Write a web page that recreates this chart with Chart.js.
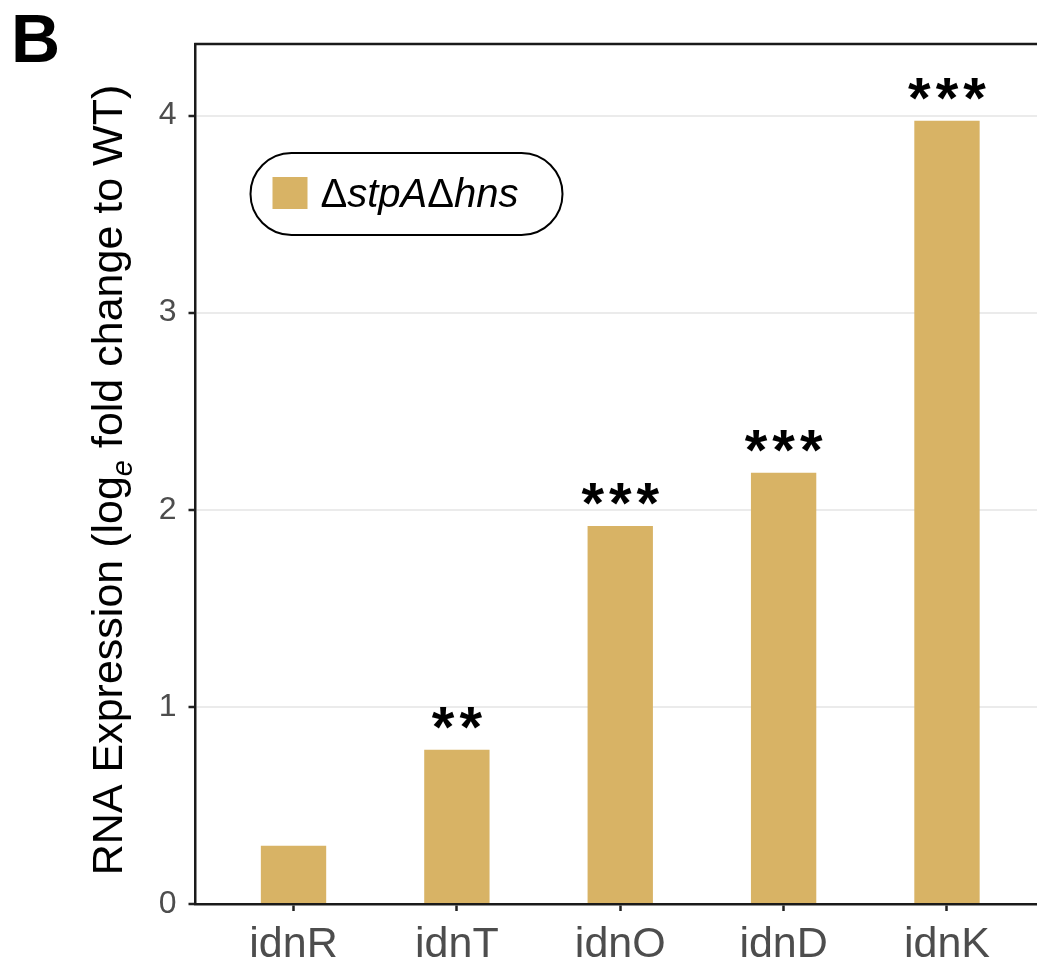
<!DOCTYPE html>
<html>
<head>
<meta charset="utf-8">
<title>idn operon expression</title>
<script src="https://cdn.jsdelivr.net/npm/chart.js@4.4.1/dist/chart.umd.min.js"></script>
<style>
  html, body { margin: 0; padding: 0; background: #fff; overflow: hidden; }
  #wrap { position: relative; width: 1060px; height: 963px; }
</style>
</head>
<body>
<div id="wrap"><canvas id="chart" width="1060" height="963"></canvas></div>
<script>
'use strict';

/* ── data ── */
const genes   = ['idnR', 'idnT', 'idnO', 'idnD', 'idnK'];
const logFC   = [0.296, 0.783, 1.918, 2.188, 3.974];
const signif  = ['', '**', '***', '***', '***'];
const yTicks  = [0, 1, 2, 3, 4];
const strain  = 'ΔstpAΔhns';

const BAR   = '#d8b365';
const FONT  = '"Liberation Sans", Arial, sans-serif';
const GREY  = '#4d4d4d';

// put ticks exactly where we want them
const fixTicks = vals => scale => {
  scale.ticks = vals.map(v => ({ value: v }));
};

/* ── panel extras: top border, stars, legend pill, y title, panel letter ── */
const decor = {
  id: 'decor',
  afterDatasetsDraw(chart) {
    const { ctx, chartArea: a, scales: { x, y } } = chart;
    ctx.save();

    // top border of panel
    ctx.strokeStyle = '#1a1a1a';
    ctx.lineWidth = 2.5;
    ctx.beginPath();
    ctx.moveTo(a.left - 1.25, a.top);
    ctx.lineTo(a.right, a.top);
    ctx.stroke();

    // significance stars (spaced out a little)
    ctx.fillStyle = '#000';
    ctx.font = `bold 58px ${FONT}`;
    ctx.textAlign = 'left';
    ctx.textBaseline = 'alphabetic';
    const gap = 5;
    signif.forEach((s, i) => {
      if (!s) return;
      const w = ctx.measureText(s).width + gap * (s.length - 1);
      let sx = x.getPixelForValue(i) - w / 2;
      for (const ch of s) {
        ctx.fillText(ch, sx, y.getPixelForValue(logFC[i]) - 3);
        sx += ctx.measureText(ch).width + gap;
      }
    });

    // legend pill
    const ds = chart.data.datasets[0];
    const lx = a.left + 55, ly = a.top + 109, lw = 312, lh = 82, r = lh / 2;
    ctx.strokeStyle = '#000';
    ctx.lineWidth = 2;
    ctx.beginPath();
    ctx.roundRect(lx, ly, lw, lh, r);
    ctx.stroke();
    ctx.fillStyle = ds.backgroundColor;
    ctx.fillRect(lx + 22, ly + 24, 35, 32);

    // legend label: Δ upright, gene names italic
    ctx.fillStyle = '#000';
    let tx = lx + 70;
    const ty = ly + 54;
    ds.label.split(/(Δ)/).filter(Boolean).forEach(part => {
      ctx.font = part === 'Δ' ? `40px ${FONT}` : `italic 40px ${FONT}`;
      ctx.fillText(part, tx, ty);
      tx += ctx.measureText(part).width;
    });

    // y axis title with subscript e
    const parts = [
      { t: 'RNA Expression (log', f: `43px ${FONT}`, dy: 0 },
      { t: 'e', f: `italic 29px ${FONT}`, dy: 10 },
      { t: ' fold change to WT)', f: `43px ${FONT}`, dy: 0 }
    ];
    let total = 0;
    parts.forEach(p => { ctx.font = p.f; p.w = ctx.measureText(p.t).width; total += p.w; });
    ctx.translate(122, (a.top + a.bottom) / 2 + 6);
    ctx.rotate(-Math.PI / 2);
    let px = -total / 2;
    parts.forEach(p => {
      ctx.font = p.f;
      ctx.fillText(p.t, px, p.dy);
      px += p.w;
    });
    ctx.setTransform(1, 0, 0, 1, 0, 0);

    // panel letter
    ctx.font = `bold 68px ${FONT}`;
    ctx.fillText('B', 11, 62);

    ctx.restore();
  }
};

new Chart(document.getElementById('chart'), {
  type: 'bar',
  data: {
    datasets: [{
      label: strain,
      data: logFC.map((v, i) => ({ x: i, y: v })),
      backgroundColor: BAR,
      borderWidth: 0,
      categoryPercentage: 1,
      barPercentage: 0.4
    }]
  },
  options: {
    responsive: false,
    animation: false,
    layout: { padding: { top: 44, right: 15, left: 0, bottom: 0 } },
    plugins: { legend: { display: false }, tooltip: { enabled: false } },
    scales: {
      x: {
        type: 'linear',
        min: -0.6,
        max: 4.6,
        offset: false,
        afterBuildTicks: fixTicks(genes.map((g, i) => i)),
        afterFit: s => { s.height = 59; },
        grid: { display: true, offset: false, drawOnChartArea: false, drawTicks: true,
                tickLength: 7, tickColor: '#222', tickWidth: 2.5 },
        border: { display: true, color: '#1a1a1a', width: 2.5 },
        ticks: {
          autoSkip: false, maxRotation: 0, padding: 8,
          color: GREY, font: { family: FONT, size: 43 },
          callback: v => genes[v] ?? ''
        }
      },
      y: {
        min: 0,
        max: 4.363,
        afterBuildTicks: fixTicks(yTicks),
        afterFit: s => { s.width = 195.5; },
        grid: { color: '#ebebeb', lineWidth: 2, tickLength: 7, tickColor: '#222', tickWidth: 2.5 },
        border: { display: true, color: '#1a1a1a', width: 2.5 },
        ticks: { padding: 12, color: GREY, font: { family: FONT, size: 32 } }
      }
    }
  },
  plugins: [decor]
});
</script>
</body>
</html>
